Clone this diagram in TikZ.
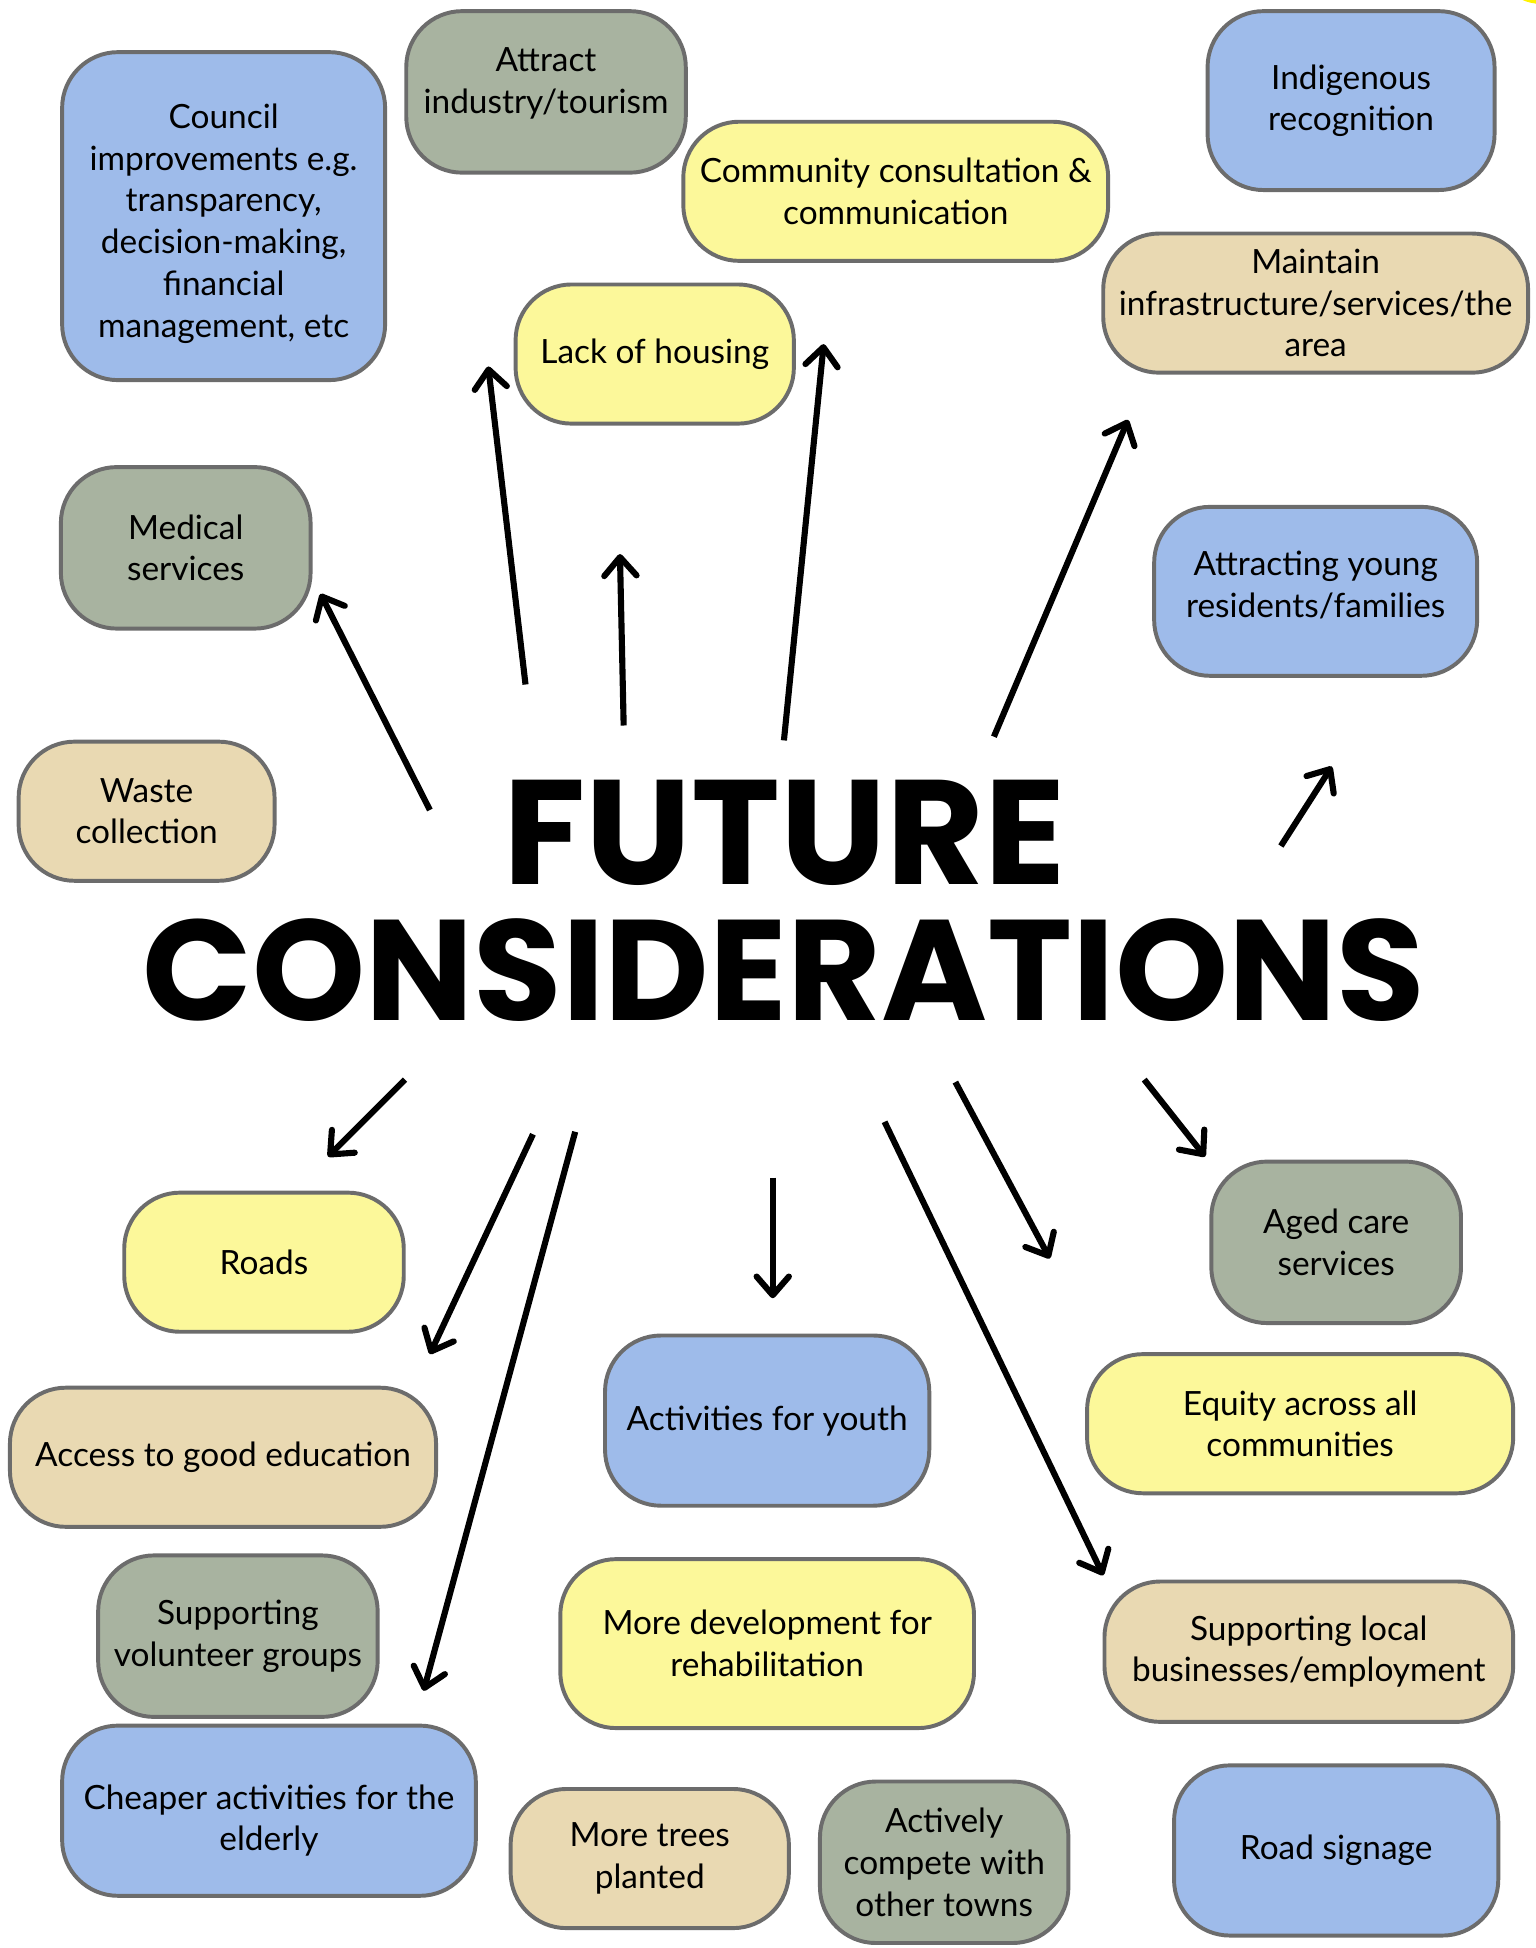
\documentclass[tikz,border=0pt]{standalone}
\usepackage{fontspec}
\setmainfont{Lato}
\newfontfamily\headfont{Poppins}
\usepackage{graphicx}
\usepackage{tikz}
\usetikzlibrary{arrows.meta}
\definecolor{boxblue}{RGB}{158,187,234}
\definecolor{boxgrey}{RGB}{168,179,160}
\definecolor{boxyellow}{RGB}{252,248,154}
\definecolor{boxtan}{RGB}{233,217,178}
\definecolor{edgegrey}{RGB}{108,108,108}
\definecolor{markyellow}{RGB}{255,242,0}

\begin{document}
\begin{tikzpicture}[
		x=1cm,
		y=1cm,
		box/.style={
			rounded corners=0.45cm,
			draw=edgegrey,
			line width=0.9pt,
			align=center,
			inner sep=2pt,
			text=black,
			font=\fontsize{7.65}{9.55}\selectfont
		},
		boxtext/.style={align=center, inner sep=0pt, text=black, font=\fontsize{7.65}{9.55}\selectfont},
		bluebox/.style={box, fill=boxblue},
		greybox/.style={box, fill=boxgrey},
		yellowbox/.style={box, fill=boxyellow},
		tanbox/.style={box, fill=boxtan},
		arrow/.style={-{Straight Barb[length=1.5mm,width=2.6mm,line cap=round,line join=round]}, line width=1.4pt, draw=black},
		headline/.style={inner sep=0pt, font=\headfont\bfseries}
	]
	
	% Canvas
	\useasboundingbox[fill=white] (0,0) rectangle (12.36,15.68);
	\fill[markyellow] (12.45,15.72) ellipse (0.23 and 0.075);
	
	% Title
	\node[headline] (future) at (6.315,8.98) {\resizebox{4.53cm}{0.84cm}{FUTURE}};
	\node[headline] (consid) at (6.31,7.87) {\resizebox{10.32cm}{0.82cm}{CONSIDERATIONS}};
	
	% Upper boxes
	\node[bluebox, minimum width=2.60cm, minimum height=2.64cm] (council) at (1.80,13.94) {};
	\node[boxtext] at ([yshift=-0.06cm]council.center)
	{Council\\improvements e.g.\\transparency,\\decision-making,\\financial\\management, etc};
	\node[greybox, minimum width=2.25cm, minimum height=1.30cm] (attract) at (4.395,14.94) {};
	\node[boxtext] at ([yshift=0.07cm]attract.center) {Attract\\industry/tourism};
	\node[yellowbox, minimum width=3.42cm, minimum height=1.12cm] (consult) at (7.21,14.14)
	{Community consultation \&\\communication};
	\node[bluebox, minimum width=2.31cm, minimum height=1.44cm] (indig) at (10.875,14.87)
	{Indigenous\\recognition};
	\node[tanbox, minimum width=3.42cm, minimum height=1.12cm] (maintain) at (10.59,13.24)
	{Maintain\\infrastructure/services/the\\area};
	\node[yellowbox, minimum width=2.24cm, minimum height=1.12cm] (housing) at (5.27,12.83)
	{Lack of housing};
	\node[greybox, minimum width=2.01cm, minimum height=1.30cm] (medical) at (1.495,11.27)
	{Medical\\services};
	\node[bluebox, minimum width=2.60cm, minimum height=1.36cm] (young) at (10.59,10.92) {};
	\node[boxtext] at ([yshift=0.05cm]young.center) {Attracting young\\residents/families};
	\node[tanbox, minimum width=2.06cm, minimum height=1.12cm] (waste) at (1.18,9.15)
	{Waste\\collection};
	
	% Lower boxes
	\node[yellowbox, minimum width=2.25cm, minimum height=1.12cm] (roads) at (2.125,5.52)
	{Roads};
	\node[greybox, minimum width=2.01cm, minimum height=1.30cm] (aged) at (10.755,5.68)
	{Aged care\\services};
	\node[tanbox, minimum width=3.43cm, minimum height=1.12cm] (educ) at (1.795,3.95)
	{Access to good education};
	\node[bluebox, minimum width=2.61cm, minimum height=1.37cm] (youth) at (6.175,4.245)
	{Activities for youth};
	\node[yellowbox, minimum width=3.43cm, minimum height=1.12cm] (equity) at (10.465,4.22)
	{Equity across all\\communities};
	\node[greybox, minimum width=2.25cm, minimum height=1.30cm] (volunt) at (1.915,2.51)
	{Supporting\\volunteer groups};
	\node[yellowbox, minimum width=3.33cm, minimum height=1.36cm] (rehab) at (6.175,2.45)
	{More development for\\rehabilitation};
	\node[tanbox, minimum width=3.29cm, minimum height=1.13cm] (business) at (10.535,2.385)
	{Supporting local\\businesses/employment};
	\node[bluebox, minimum width=3.33cm, minimum height=1.37cm] (elderly) at (2.165,1.105) {};
	\node[boxtext] at ([yshift=-0.08cm]elderly.center) {Cheaper activities for the\\elderly};
	\node[tanbox, minimum width=2.24cm, minimum height=1.12cm] (trees) at (5.23,0.72)
	{More trees\\planted};
	\node[greybox, minimum width=2.00cm, minimum height=1.30cm] (compete) at (7.60,0.69)
	{Actively\\compete with\\other towns};
	\node[bluebox, minimum width=2.61cm, minimum height=1.37cm] (signage) at (10.755,0.785)
	{Road signage};
	
	% Arrow ends
	\coordinate (t1) at (4.23,10.17);  \coordinate (h1) at (3.93,12.73);
	\coordinate (t2) at (5.02,9.84);   \coordinate (h2) at (4.99,11.22);
	\coordinate (t3) at (6.31,9.72);   \coordinate (h3) at (6.63,12.91);
	\coordinate (t4) at (8.00,9.75);   \coordinate (h4) at (9.08,12.30);
	\coordinate (t5) at (3.46,9.16);   \coordinate (h5) at (2.58,10.90);
	\coordinate (t6) at (10.31,8.87);  \coordinate (h6) at (10.72,9.51);
	\coordinate (t7) at (3.26,6.99);   \coordinate (h7) at (2.64,6.37);
	\coordinate (t8) at (4.29,6.55);   \coordinate (h8) at (3.46,4.78);
	\coordinate (t9) at (4.63,6.57);   \coordinate (h9) at (3.41,2.07);
	\coordinate (t10) at (6.22,6.20);  \coordinate (h10) at (6.22,5.23);
	\coordinate (t11) at (7.12,6.65);  \coordinate (h11) at (8.88,3.00);
	\coordinate (t12) at (7.69,6.97);  \coordinate (h12) at (8.45,5.55);
	\coordinate (t13) at (9.21,6.99);  \coordinate (h13) at (9.70,6.37);
	
	% Arrows
	\foreach \i in {1,...,13}{
		\draw[arrow] (t\i) -- (h\i);
	}
	
\end{tikzpicture}
\end{document}
